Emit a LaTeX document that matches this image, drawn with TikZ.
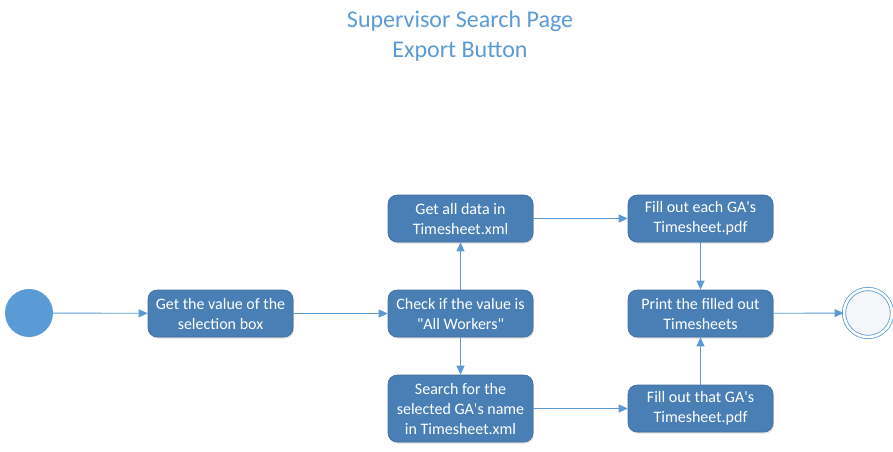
\documentclass[tikz,border=0pt]{standalone}
\usepackage{fontspec}
\setmainfont{Carlito}[Ligatures=TeXOff]
\usetikzlibrary{arrows.meta,shadows}
\definecolor{boxfill}{RGB}{74,127,181}
\definecolor{lineblue}{RGB}{91,155,213}
\definecolor{endfill}{RGB}{244,246,250}
\begin{document}
\begin{tikzpicture}[x=1pt,y=-1pt,
  stepbox/.style={draw=boxfill!85!black,line width=0.6pt,fill=boxfill,rounded corners=9pt,minimum width=145pt,minimum height=47pt,text=white,font=\fontsize{16}{20}\selectfont,align=center,inner sep=2pt,drop shadow={shadow xshift=1pt,shadow yshift=-1.5pt,opacity=0.25}},
  conn/.style={draw=lineblue,line width=0.9pt,-{Triangle[length=9pt,width=8pt]}}]
\useasboundingbox (0,0) rectangle (893,451);
\node[font=\fontsize{24}{30}\selectfont,text=lineblue,align=center] (title) at (460,36) {Supervisor Search Page\\Export Button};
\node[circle,fill=lineblue,minimum size=48pt,inner sep=0pt] (start) at (29,313) {};
\node[stepbox] (b1) at (220.5,313.5) {Get the value of the\\selection box};
\node[stepbox] (check) at (460.5,313.5) {Check if the value is\\"All Workers"};
\node[stepbox] (all) at (460.5,218.5) {Get all data in\\Timesheet.xml};
\node[stepbox,minimum height=67pt] (search) at (460.5,408.5) {Search for the\\selected GA's name\\in Timesheet.xml};
\node[stepbox] (each) at (700.5,218.5) {Fill out each GA's\\Timesheet.pdf};
\node[stepbox] (print) at (700.5,313.5) {Print the filled out\\Timesheets};
\node[stepbox] (that) at (700.5,408.5) {Fill out that GA's\\Timesheet.pdf};
\node[circle,draw=lineblue,line width=0.8pt,fill=endfill,minimum size=48pt,inner sep=0pt,double=white,double distance=2.5pt] (end) at (868,313) {};
\draw[conn] (start) -- (b1);
\draw[conn] (b1) -- (check);
\draw[conn] (check) -- (all);
\draw[conn] (check) -- (search);
\draw[conn] (all) -- (each);
\draw[conn] (each) -- (print);
\draw[conn] (that) -- (print);
\draw[conn] (search) -- (that);
\draw[conn] (print) -- (end);
\end{tikzpicture}
\end{document}
